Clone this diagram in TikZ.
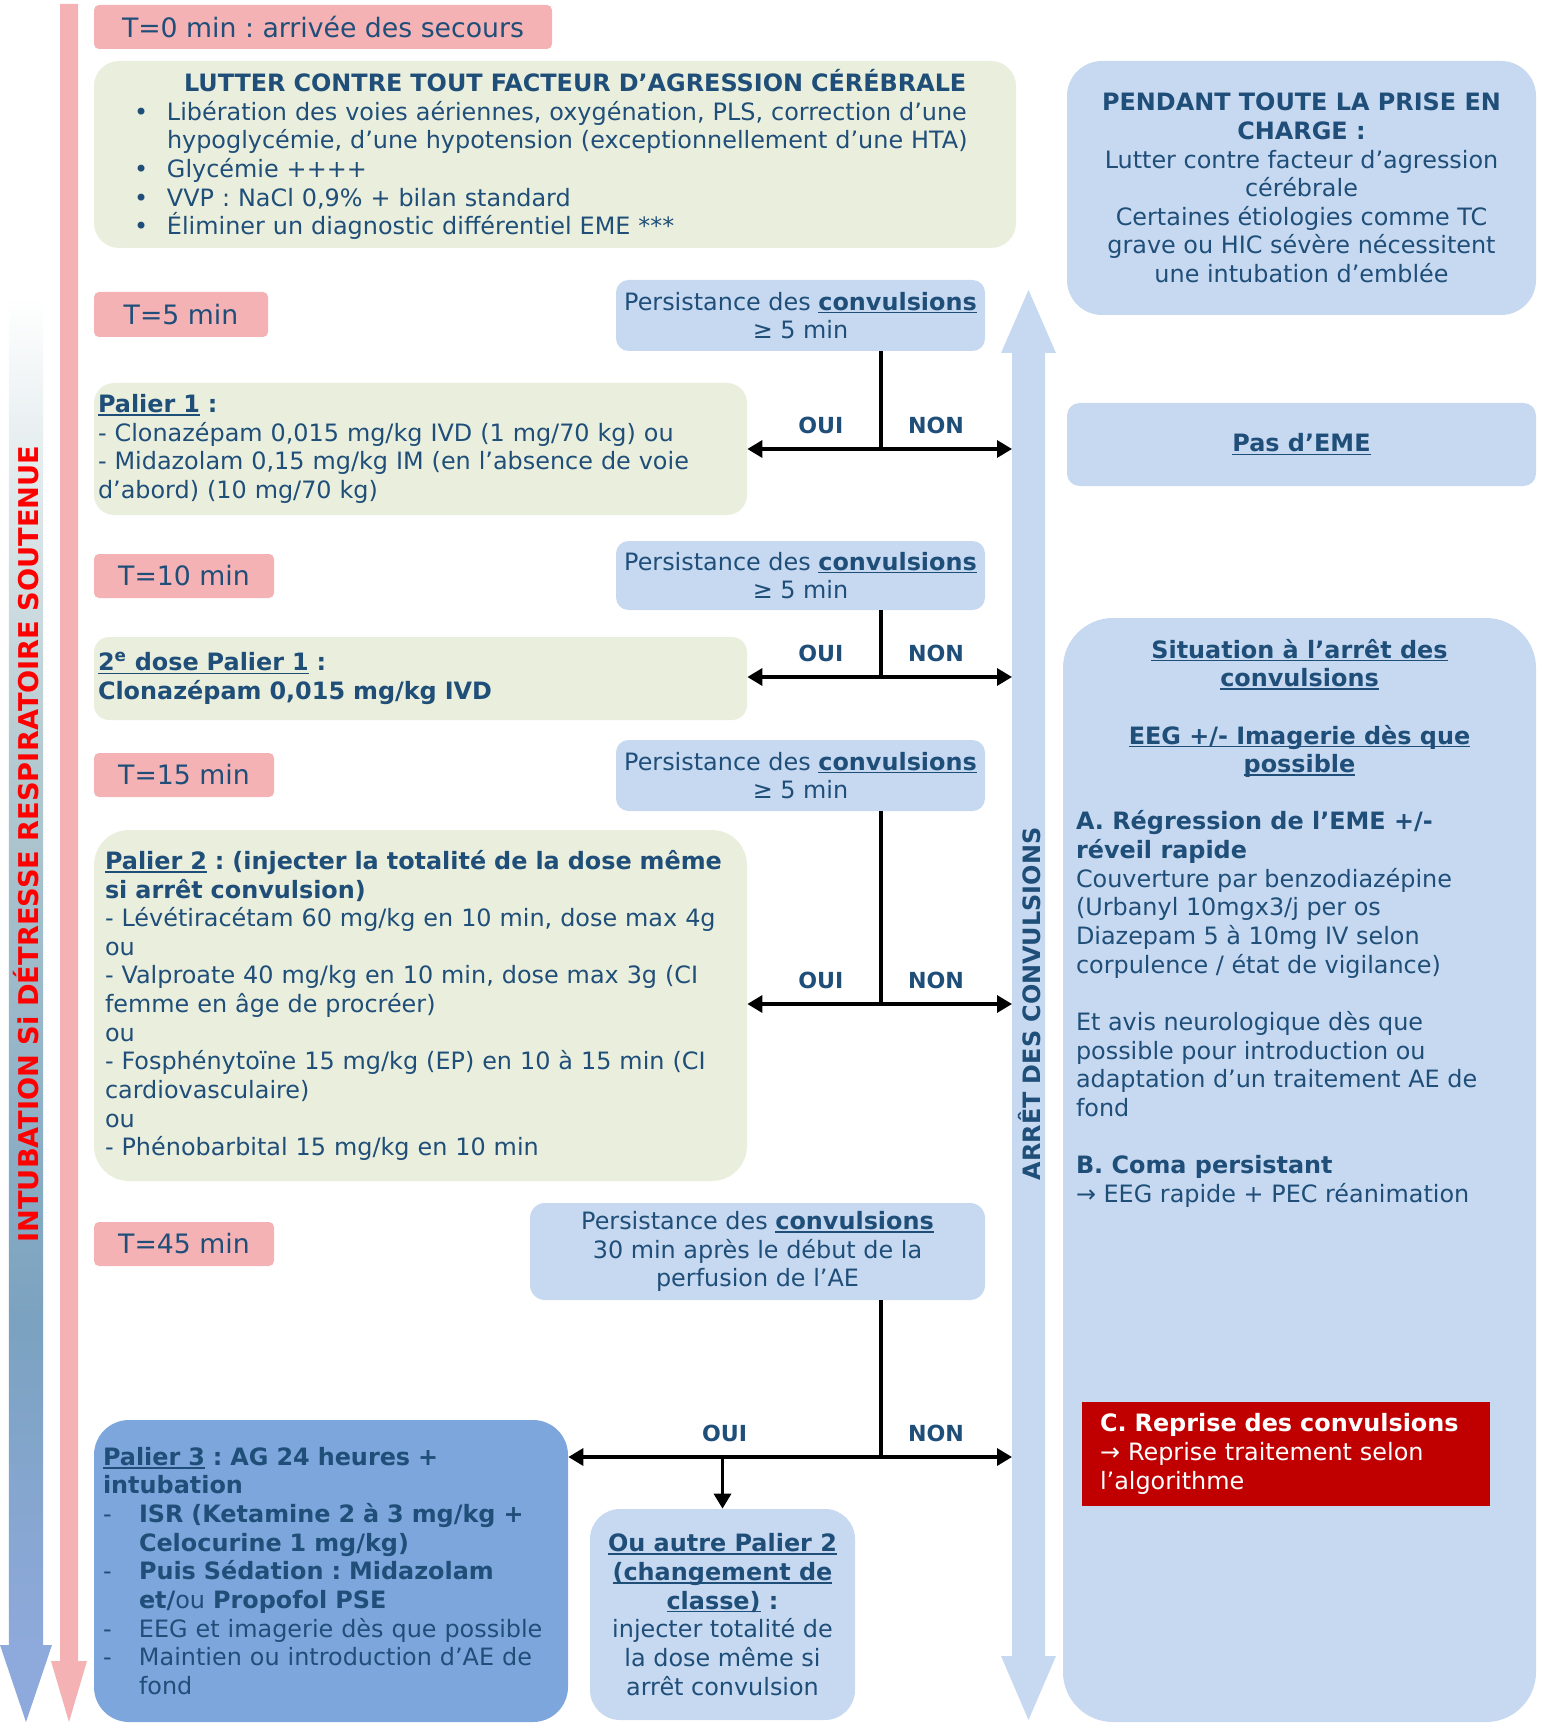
\documentclass[tikz,border=0pt]{standalone}
\usepackage{fontspec}
\setmainfont{DejaVu Sans}
\usetikzlibrary{arrows.meta}
\frenchspacing

\definecolor{bleutexte}{HTML}{1F4E79}
\definecolor{rose}{HTML}{F4B2B4}
\definecolor{vertpale}{HTML}{EAEFDD}
\definecolor{bleupale}{HTML}{C6D9F0}
\definecolor{bleumoyen}{HTML}{7DA7DC}
\definecolor{rougefonce}{HTML}{C00000}
\definecolor{bleugris}{HTML}{7BA2C0}
\definecolor{grisclair}{HTML}{B4CAD0}
\definecolor{pervenche}{HTML}{8EA9DB}

\pgfdeclareverticalshading{degradeintub}{100bp}{color(0bp)=(pervenche); color(25bp)=(pervenche); color(35bp)=(bleugris); color(52bp)=(grisclair); color(66bp)=(white); color(100bp)=(white)}

\newcommand\corps{\fontsize{13.6}{16.3}\selectfont}
\newsavebox\boitesoul
\newcommand\souligne[1]{\leavevmode\sbox\boitesoul{#1}\rlap{\rule[-0.14em]{\wd\boitesoul}{0.07em}}\usebox\boitesoul}

\begin{document}
\begin{tikzpicture}[
    every node/.style={text=bleutexte, font=\corps, inner sep=0pt},
    temps/.style={fill=rose, rounded corners=0.1cm, font=\fontsize{15.2}{18}\selectfont},
    vert/.style={fill=vertpale, align=left},
    bleu/.style={fill=bleupale, align=center},
    etiq/.style={font=\bfseries\fontsize{12.6}{14}\selectfont, above=0.28cm},
    trait/.style={line width=1.9pt},
    fleche/.style={line width=1.9pt, -{Triangle[length=0.3cm, width=0.34cm]}}
  ]
  \useasboundingbox (0,0) rectangle (30.86,-34.62);

  % fleches de gauche
  \shade[shading=degradeintub] (0.18,0) rectangle (0.86,-32.9);
  \fill[pervenche] (0,-32.9) -- (1.04,-32.9) -- (0.52,-34.44) -- cycle;
  \node[rotate=90, text=red, font=\bfseries\fontsize{15.5}{18}\selectfont] (intub) at (0.53,-16.88) {INTUBATION Si DÉTRESSE RESPIRATOIRE SOUTENUE};
  \fill[rose] (1.2,-0.08) -- (1.56,-0.08) -- (1.56,-33.22) -- (1.74,-33.22) -- (1.38,-34.44) -- (1.02,-33.22) -- (1.2,-33.22) -- cycle;

  % fleche arret des convulsions
  \fill[bleupale] (20.24,-7.06) -- (20.02,-7.06) -- (20.57,-5.8) -- (21.12,-7.06) -- (20.9,-7.06) -- (20.9,-33.12) -- (21.12,-33.12) -- (20.57,-34.4) -- (20.02,-33.12) -- (20.24,-33.12) -- cycle;
  \node[rotate=90, font=\bfseries\fontsize{13.6}{16}\selectfont] (arret) at (20.6,-20.08) {ARRÊT DES CONVULSIONS};

  \node[temps, minimum width=9.16cm, minimum height=0.88cm] (t0) at (6.46,-0.54) {T=0 min : arrivée des secours};
  \node[temps, minimum width=3.48cm, minimum height=0.9cm] (t5) at (3.62,-6.29) {T=5 min};
  \node[temps, minimum width=3.6cm, minimum height=0.88cm] (t10) at (3.68,-11.52) {T=10 min};
  \node[temps, minimum width=3.6cm, minimum height=0.88cm] (t15) at (3.68,-15.5) {T=15 min};
  \node[temps, minimum width=3.6cm, minimum height=0.88cm] (t45) at (3.68,-24.88) {T=45 min};

  \node[vert, rounded corners=0.5cm, minimum width=18.44cm, minimum height=3.74cm, text width=16.84cm] (lutter) at (11.1,-3.09) {\hspace*{1.0cm}\textbf{LUTTER CONTRE TOUT FACTEUR D’AGRESSION CÉRÉBRALE}\\
    \makebox[0.66cm][l]{•}Libération des voies aériennes, oxygénation, PLS, correction d’une\\
    \hspace*{0.66cm}hypoglycémie, d’une hypotension (exceptionnellement d’une HTA)\\
    \makebox[0.66cm][l]{•}Glycémie ++++\\
    \makebox[0.66cm][l]{•}VVP : NaCl 0,9\% + bilan standard\\
    \makebox[0.66cm][l]{•}Éliminer un diagnostic différentiel EME ***};

  \node[bleu, rounded corners=0.25cm, minimum width=7.38cm, minimum height=1.42cm] (pers1) at (16.01,-6.31) {Persistance des \textbf{\souligne{convulsions}}\\≥ 5 min};
  \node[bleu, rounded corners=0.25cm, minimum width=7.38cm, minimum height=1.38cm] (pers2) at (16.01,-11.51) {Persistance des \textbf{\souligne{convulsions}}\\≥ 5 min};
  \node[bleu, rounded corners=0.25cm, minimum width=7.38cm, minimum height=1.42cm] (pers3) at (16.01,-15.51) {Persistance des \textbf{\souligne{convulsions}}\\≥ 5 min};
  \node[bleu, rounded corners=0.3cm, minimum width=9.1cm, minimum height=1.94cm] (pers4) at (15.15,-25.03) {Persistance des \textbf{\souligne{convulsions}}\\30 min après le début de la\\perfusion de l’AE};

  \node[vert, rounded corners=0.4cm, minimum width=13.06cm, minimum height=2.64cm, text width=12.9cm] (palier1) at (8.41,-8.98) {\textbf{\souligne{Palier 1} :}\\
    - Clonazépam 0,015 mg/kg IVD (1 mg/70 kg) ou\\
    - Midazolam 0,15 mg/kg IM (en l’absence de voie\\
    d’abord) (10 mg/70 kg)};
  \node[vert, rounded corners=0.3cm, minimum width=13.06cm, minimum height=1.66cm, text width=12.9cm] (dose2) at (8.41,-13.57) {\textbf{\souligne{2\textsuperscript{e} dose Palier 1} :}\\
    \textbf{Clonazépam 0,015 mg/kg IVD}};
  \node[vert, rounded corners=0.7cm, minimum width=13.06cm, minimum height=7.02cm, text width=12.62cm] (palier2) at (8.41,-20.11) {\textbf{\souligne{Palier 2} : (injecter la totalité de la dose même}\\
    \textbf{si arrêt convulsion)}\\
    - Lévétiracétam 60 mg/kg en 10 min, dose max 4g\\
    ou\\
    - Valproate 40 mg/kg en 10 min, dose max 3g (CI\\
    femme en âge de procréer)\\
    ou\\
    - Fosphénytoïne 15 mg/kg (EP) en 10 à 15 min (CI\\
    cardiovasculaire)\\
    ou\\
    - Phénobarbital 15 mg/kg en 10 min};

  \node[fill=bleumoyen, rounded corners=0.7cm, minimum width=9.48cm, minimum height=6.04cm, text width=9.12cm, align=left] (palier3) at (6.62,-31.42) {\textbf{\souligne{Palier 3} : AG 24 heures +}\\
    \textbf{intubation}\\
    \makebox[0.72cm][l]{-}\textbf{ISR (Ketamine 2 à 3 mg/kg +}\\
    \hspace*{0.72cm}\textbf{Celocurine 1 mg/kg)}\\
    \makebox[0.72cm][l]{-}\textbf{Puis Sédation : Midazolam}\\
    \hspace*{0.72cm}\textbf{et/}ou \textbf{Propofol PSE}\\
    \makebox[0.72cm][l]{-}EEG et imagerie dès que possible\\
    \makebox[0.72cm][l]{-}Maintien ou introduction d’AE de\\
    \hspace*{0.72cm}fond};
  \node[bleu, rounded corners=0.6cm, minimum width=5.3cm, minimum height=4.22cm] (ouiautre) at (14.45,-32.29) {\textbf{\souligne{Ou autre Palier 2}}\\
    \textbf{\souligne{(changement de}}\\
    \textbf{\souligne{classe)} :}\\
    injecter totalité de\\la dose même si\\arrêt convulsion};

  \node[bleu, rounded corners=0.7cm, minimum width=9.38cm, minimum height=5.08cm] (pendant) at (26.03,-3.76) {\textbf{PENDANT TOUTE LA PRISE EN}\\\textbf{CHARGE :}\\
    Lutter contre facteur d’agression\\cérébrale\\
    Certaines étiologies comme TC\\grave ou HIC sévère nécessitent\\une intubation d’emblée};
  \node[bleu, rounded corners=0.25cm, minimum width=9.38cm, minimum height=1.66cm] (paseme) at (26.03,-8.89) {\textbf{\souligne{Pas d’EME}}};

  \node[fill=bleupale, rounded corners=1.0cm, minimum width=9.46cm, minimum height=22.08cm] (situation) at (25.99,-23.4) {\parbox[t][21.24cm][t]{8.94cm}{%
    {\centering\bfseries
    \souligne{Situation à l’arrêt des}\\
    \souligne{convulsions}\\[\baselineskip]
    \souligne{EEG +/- Imagerie dès que}\\
    \souligne{possible}\par}
    \vspace{\baselineskip}
    \raggedright
    \textbf{A. Régression de l’EME +/-}\\
    \textbf{réveil rapide}\\
    Couverture par benzodiazépine\\
    (Urbanyl 10mgx3/j per os\\
    Diazepam 5 à 10mg IV selon\\
    corpulence / état de vigilance)\\[\baselineskip]
    Et avis neurologique dès que\\
    possible pour introduction ou\\
    adaptation d’un traitement AE de\\
    fond\\[\baselineskip]
    \textbf{B. Coma persistant}\\
    → EEG rapide + PEC réanimation}};
  \node[fill=rougefonce, text=white, minimum width=8.16cm, minimum height=2.08cm, text width=7.44cm, align=left] (reprise) at (25.72,-29.08) {\textbf{C. Reprise des convulsions}\\
    → Reprise traitement selon\\l’algorithme};

  % embranchements OUI / NON
  \coordinate (j1) at (17.62,-8.98);
  \coordinate (n1) at (20.24,-8.98);
  \draw[trait] (pers1.south -| j1) -- (j1);
  \draw[fleche] (j1) -- node[etiq, pos=0.45] {OUI} (palier1.east |- j1);
  \draw[fleche] (j1) -- node[etiq, pos=0.42] {NON} (n1);

  \coordinate (j2) at (17.62,-13.54);
  \coordinate (n2) at (20.24,-13.54);
  \draw[trait] (pers2.south -| j2) -- (j2);
  \draw[fleche] (j2) -- node[etiq, pos=0.45] {OUI} (dose2.east |- j2);
  \draw[fleche] (j2) -- node[etiq, pos=0.42] {NON} (n2);

  \coordinate (j3) at (17.62,-20.08);
  \coordinate (n3) at (20.24,-20.08);
  \draw[trait] (pers3.south -| j3) -- (j3);
  \draw[fleche] (j3) -- node[etiq, pos=0.45] {OUI} (palier2.east |- j3);
  \draw[fleche] (j3) -- node[etiq, pos=0.42] {NON} (n3);

  \coordinate (j4) at (17.62,-29.14);
  \coordinate (n4) at (20.24,-29.14);
  \coordinate (o4) at (14.45,-29.14);
  \draw[trait] (pers4.south -| j4) -- (j4);
  \draw[fleche] (j4) -- node[etiq] {OUI} (palier3.east |- j4);
  \draw[fleche] (j4) -- node[etiq, pos=0.42] {NON} (n4);
  \draw[fleche] (o4) -- (ouiautre.north);
\end{tikzpicture}
\end{document}
